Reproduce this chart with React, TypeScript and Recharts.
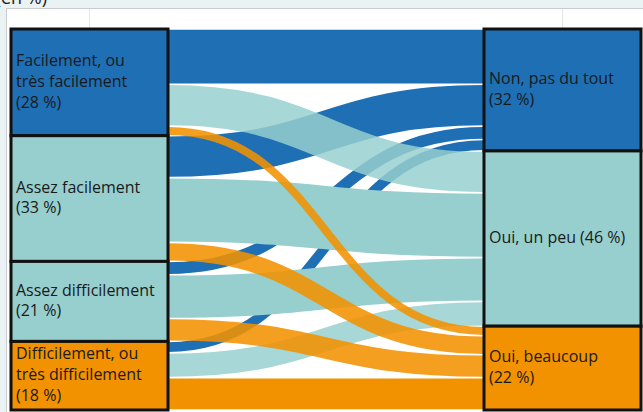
import { Sankey } from 'recharts'

// Niveau de facilité (gauche) → réponse (droite), en % des répondants
const SOURCES = ['Facilement, ou très facilement', 'Assez facilement', 'Assez difficilement', 'Difficilement, ou très difficilement']
const TARGETS = ['Non, pas du tout', 'Oui, un peu', 'Oui, beaucoup']

// one row per source, one column per target
const FLOWS = [
  [14.5, 11, 2.5],
  [11, 17, 5],
  [3.5, 11.5, 6],
  [3, 6.5, 8.5],
]

// label lines; '#' is replaced by the node share
const NODE_LINES = [
  ['Facilement, ou', 'très facilement', '(#)'],
  ['Assez facilement', '(#)'],
  ['Assez difficilement', '(#)'],
  ['Difficilement, ou', 'très difficilement', '(#)'],
  ['Non, pas du tout', '(#)'],
  ['Oui, un peu (#)'],
  ['Oui, beaucoup', '(#)'],
]

const BLUE = '#1f6fb5'
const TEAL = '#96cfce'
const ORANGE = '#f29200'
const NODE_COLORS = [BLUE, TEAL, TEAL, ORANGE, BLUE, TEAL, ORANGE]

const nodes = [...SOURCES, ...TARGETS].map((name, i) => ({ name, color: NODE_COLORS[i], lines: NODE_LINES[i] }))
// grouped by target so the blue flows sit underneath, orange on top
const links = TARGETS.flatMap((_, t) =>
  FLOWS.map((row, s) => ({ source: s, target: SOURCES.length + t, value: row[t] })),
)

const FONT = '"Open Sans", "Noto Sans", sans-serif'

function FlowLink(props: any) {
  const { sourceX, sourceY, sourceControlX, targetX, targetY, targetControlX, linkWidth, payload } = props
  const src = payload.source
  const tgt = payload.target
  let opacity = 1
  if (src.color !== tgt.color && tgt.color === TEAL) opacity = 0.84
  if (src.color !== tgt.color && tgt.color === ORANGE) opacity = 0.88
  return (
    <path
      d={`M${sourceX},${sourceY} C${sourceControlX},${sourceY} ${targetControlX},${targetY} ${targetX},${targetY}`}
      fill="none"
      stroke={tgt.color}
      strokeWidth={Math.max(linkWidth - 1.6, 1)}
      strokeOpacity={opacity}
    />
  )
}

function BoxNode(props: any) {
  const { x, y, width, height, payload } = props
  const pct = `${Math.round(payload.value)} %`
  const lines: string[] = payload.lines.map((l: string) => l.replace('#', pct))
  const lh = 20.8
  const firstBase = y + height / 2 - ((lines.length - 1) * lh) / 2 + 4.5
  return (
    <g>
      <rect x={x} y={y} width={width} height={height} fill={payload.color} stroke="#111" strokeWidth={3} />
      <text x={x + 5} y={firstBase} fontFamily={FONT} fontSize={16} fill="#1a1a1a">
        {lines.map((l, i) => (
          <tspan key={i} x={x + 5} y={firstBase + i * lh}>
            {l}
          </tspan>
        ))}
      </text>
    </g>
  )
}

export default function App() {
  return (
    <div style={{ position: 'absolute', left: 0, top: 0, width: 643, height: 412, background: '#eaf2f4', overflow: 'hidden' }}>
      <div
        style={{
          position: 'absolute',
          left: 6,
          top: 8,
          right: 0,
          bottom: 0,
          background: '#fff',
          borderTop: '1px solid #c9cccd',
          borderLeft: '1px solid #c9cccd',
        }}
      />
      <svg width={643} height={412} style={{ position: 'absolute', left: 0, top: 0 }}>
        <text x={47} y={4} textAnchor="end" fontFamily={FONT} fontSize={18} fill="#222">
          (en %)
        </text>
        <line x1={89.5} y1={9} x2={89.5} y2={28} stroke="#e6e6e6" />
        <line x1={562.5} y1={9} x2={562.5} y2={28} stroke="#e6e6e6" />
      </svg>
      <div style={{ position: 'absolute', left: 0, top: 0 }}>
        <Sankey
          width={643}
          height={412}
          data={{ nodes, links }}
          nodeWidth={157}
          nodePadding={0}
          iterations={0}
          sort={false}
          margin={{ top: 29, right: 2, bottom: 2, left: 11 }}
          link={<FlowLink />}
          node={<BoxNode />}
        />
      </div>
    </div>
  )
}
